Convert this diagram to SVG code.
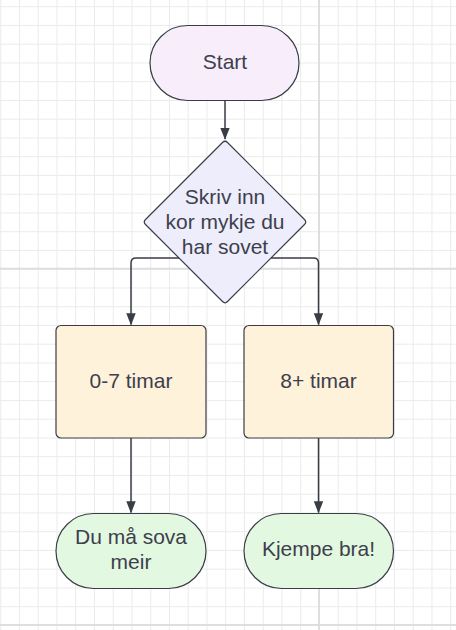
<svg xmlns="http://www.w3.org/2000/svg" width="456" height="630" viewBox="0 0 456 630">
  <style>
    .lbl { font-family: "Liberation Sans", Arial, sans-serif; font-size: 21px; fill: #3d404c; text-anchor: middle; }
    .node { stroke: #3a3d46; stroke-width: 1.2; }
    .conn { fill: none; stroke: #3a3d46; stroke-width: 1.5; }
    .minor { stroke: #ebebeb; stroke-width: 1; }
    .major { stroke: #dedede; stroke-width: 2; }
  </style>
  <defs>
    <pattern id="grid" patternUnits="userSpaceOnUse" x="0.2" y="6.2" width="18.75" height="18.75">
      <path d="M0.5 0 V18.75 M0 0.5 H18.75" class="minor"/>
    </pattern>
    <marker id="arrow" markerUnits="userSpaceOnUse" markerWidth="12" markerHeight="14" viewBox="0 0 14 12" refX="13" refY="6" orient="auto">
      <path d="M0 0.5 L14 6 L0 11.5 Z" fill="#3a3d46"/>
    </marker>
  </defs>
  <rect width="456" height="630" fill="#ffffff"/>
  <rect width="456" height="630" fill="url(#grid)"/>
  <g id="grid-major">
    <line x1="319" y1="0" x2="319" y2="630" class="major"/>
    <line x1="0" y1="268.7" x2="456" y2="268.7" class="major"/>
    <line x1="0" y1="625" x2="456" y2="625" class="major"/>
  </g>
  <g id="connectors">
    <path d="M225 100.5 V139" class="conn" marker-end="url(#arrow)"/>
    <path d="M179 258 H136 Q131 258 131 263 V324.5" class="conn" marker-end="url(#arrow)"/>
    <path d="M271 258 H313.5 Q318.5 258 318.5 263 V324.5" class="conn" marker-end="url(#arrow)"/>
    <path d="M131 438 V512.5" class="conn" marker-end="url(#arrow)"/>
    <path d="M318.5 438 V512.5" class="conn" marker-end="url(#arrow)"/>
  </g>
  <g id="start">
    <rect x="150" y="25.5" width="149" height="75" rx="37.5" fill="#f8edfb" class="node"/>
    <text x="225" y="68.5" class="lbl">Start</text>
  </g>
  <g id="decision">
    <path d="M222.5 142.5 Q225 140 227.5 142.5 L304.5 219.5 Q307 222 304.5 224.5 L227.5 301.5 Q225 304 222.5 301.5 L145.5 224.5 Q143 222 145.5 219.5 Z" fill="#ededfb" class="node"/>
    <text x="225" y="204" class="lbl">Skriv inn</text>
    <text x="225" y="229" class="lbl">kor mykje du</text>
    <text x="225" y="253.5" class="lbl">har sovet</text>
  </g>
  <g id="few-hours">
    <rect x="56" y="325.5" width="150" height="112.5" rx="5" fill="#fef2db" class="node"/>
    <text x="131" y="388" class="lbl">0-7 timar</text>
  </g>
  <g id="many-hours">
    <rect x="244" y="325.5" width="149.5" height="112.5" rx="5" fill="#fef2db" class="node"/>
    <text x="318.5" y="388" class="lbl">8+ timar</text>
  </g>
  <g id="sleep-more">
    <rect x="56" y="513.5" width="150" height="75" rx="37.5" fill="#e3f8e1" class="node"/>
    <text x="131" y="543.5" class="lbl">Du må sova</text>
    <text x="131" y="568.5" class="lbl">meir</text>
  </g>
  <g id="great">
    <rect x="244" y="513.5" width="149.5" height="75" rx="37.5" fill="#e3f8e1" class="node"/>
    <text x="318.5" y="555.5" class="lbl">Kjempe bra!</text>
  </g>
</svg>
